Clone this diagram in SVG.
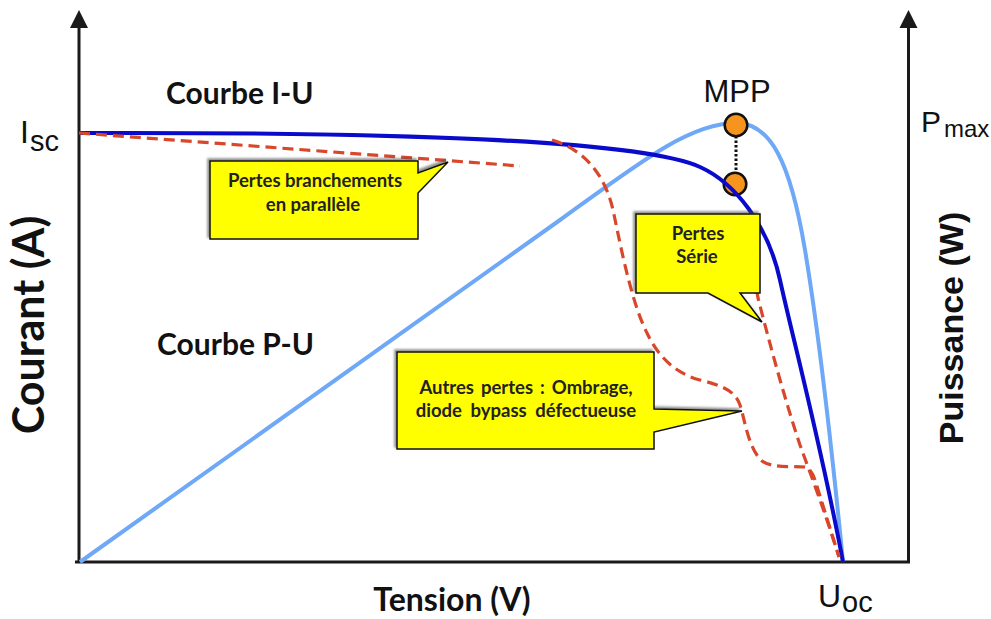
<svg xmlns="http://www.w3.org/2000/svg" width="991" height="619" viewBox="0 0 991 619">
<style>
.axis{stroke:#1a1a1a;stroke-width:3;fill:none}
.head{fill:#1a1a1a}
.cal{font-family:Lato,"Open Sans",sans-serif;font-weight:700;fill:#111}
.ari{font-family:"Liberation Sans",Arial,sans-serif;fill:#111}
.box{fill:#ffff00;stroke:#111;stroke-width:1.5;stroke-linejoin:miter;filter:url(#sh)}
.btxt{font-family:Lato,"Open Sans",sans-serif;font-weight:700;font-size:18.5px;fill:#222;text-anchor:middle}
.iu{stroke:#0a0acc;stroke-width:4;fill:none}
.pu{stroke:#6ea8f7;stroke-width:4;fill:none}
.loss{stroke:#d9472b;stroke-width:3.2;fill:none;stroke-dasharray:11 6}
.mpp{fill:#f7941d;stroke:#111;stroke-width:2.5}
</style>
<defs>
<filter id="sh" x="-10%" y="-10%" width="120%" height="120%">
<feDropShadow dx="-2" dy="-2" stdDeviation="1" flood-color="#444" flood-opacity="0.6"/>
</filter>
</defs>
<rect width="991" height="619" fill="#ffffff"/>
<g id="axes">
<line class="axis" x1="79" y1="562" x2="79" y2="26"/>
<polygon class="head" points="70,28 88,28 79,10"/>
<line class="axis" x1="908.5" y1="562" x2="908.5" y2="26"/>
<polygon class="head" points="899.5,28 917.5,28 908.5,10"/>
<line class="axis" x1="75" y1="562" x2="910" y2="562"/>
</g>
<g id="connectors">
<path id="curve-pu" class="pu" d="M80,562 L560,220 C640,162 690,123 736,123 C770,123 790,160 805,250 C815,310 830,430 843,562"/>
<g id="mpp-points">
<line x1="736" y1="136" x2="736" y2="173" stroke="#111" stroke-width="3" stroke-dasharray="2.5 2"/>
<circle class="mpp" cx="736" cy="125" r="11.3"/>
<circle class="mpp" cx="735" cy="184" r="11.3"/>
</g>
<path id="curve-iu" class="iu" d="M79,133 C400,132 640,140 700,167 C735,182.75 768,225 780,280 C792,335 820,440 843,562"/>
<path id="loss-parallel" class="loss" d="M79,133 L520,166"/>
<path id="loss-series" class="loss" d="M748,240 L758,298 C770,345 785,400 800,445 C812,478 826,515 839,557"/>
<path id="loss-other" class="loss" d="M552,140 C585,150 605,175 613,210 C618,232 630,300 647,333 C655,350 670,372 700,380 C720,385 735,390 740,405 C745,420 748,448 762,461 C772,468 790,466 805,467 C810,468 813,474 815,480 L839,557"/>
</g>
<g id="callout-parallel">
<path class="box" d="M210,161 H418 V173 L448,162 L418,193 V239 H210 Z"/>
<text class="btxt" x="315" y="187">Pertes branchements</text>
<text class="btxt" x="313" y="211">en parallèle</text>
</g>
<g id="callout-series">
<path class="box" d="M636,214 H760 V293 H740 L762,322 L708,293 H636 Z"/>
<text class="btxt" x="698" y="240">Pertes</text>
<text class="btxt" x="697" y="263">Série</text>
</g>
<g id="callout-other">
<path class="box" d="M397,352 H654 V409 L742,411 L654,432 V449 H397 Z"/>
<text class="btxt" x="526" y="394" word-spacing="2.5">Autres pertes : Ombrage,</text>
<text class="btxt" x="526" y="417" word-spacing="4">diode bypass défectueuse</text>
</g>
<g id="labels">
<text class="cal" x="166" y="104" font-size="30">Courbe I-U</text>
<text class="cal" x="157" y="355" font-size="30">Courbe P-U</text>
<text class="cal" x="452" y="611" font-size="32" text-anchor="middle">Tension (V)</text>
<text class="cal" font-size="43" text-anchor="middle" transform="translate(44,325) rotate(-90)">Courant (A)</text>
<text class="ari" font-size="34" font-weight="700" text-anchor="middle" transform="translate(963,328) rotate(-90)">Puissance (W)</text>
<text class="ari" x="737" y="102" font-size="31" text-anchor="middle">MPP</text>
<text class="ari" x="20" y="143" font-size="32">I</text>
<text class="ari" x="30" y="151" font-size="29">sc</text>
<text class="ari" x="921" y="132" font-size="30">P</text>
<text class="ari" x="944" y="137" font-size="24">max</text>
<text class="ari" x="818" y="607" font-size="32">U</text>
<text class="ari" x="842" y="612" font-size="29">oc</text>
</g>
</svg>
